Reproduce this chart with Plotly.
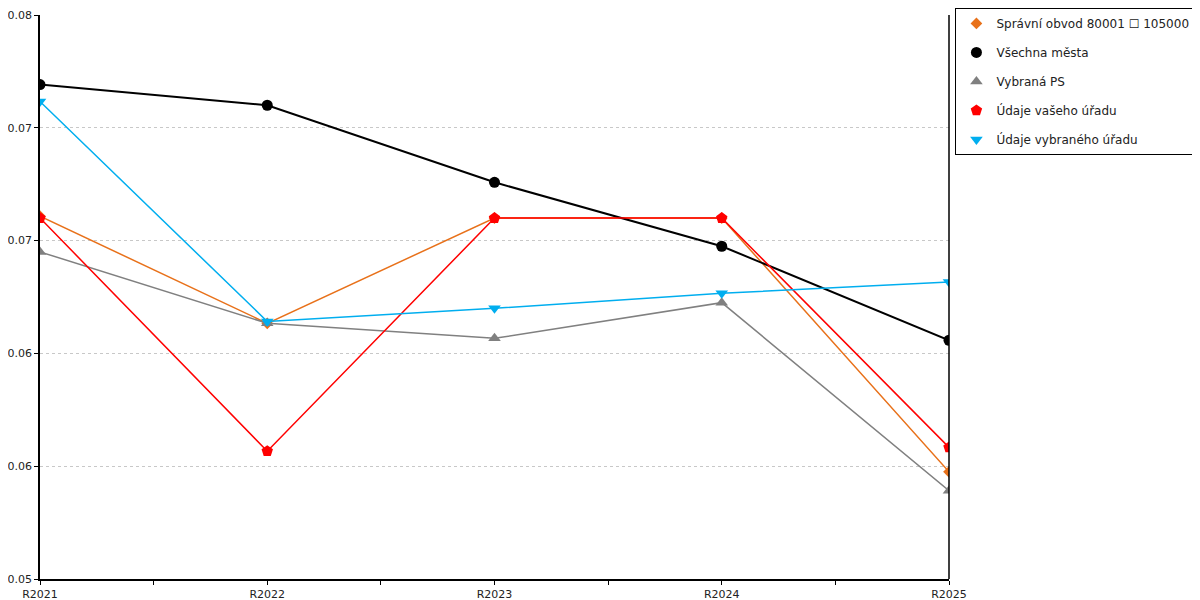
import plotly.graph_objects as go

# -----------------------------------------------------
# Data
# -----------------------------------------------------

years = ["R2021", "R2022", "R2023", "R2024", "R2025"]

spravni_obvod = [0.0693, 0.0636, 0.0692, 0.0692, 0.0557]
vsechna_mesta = [0.0763, 0.0752, 0.0711, 0.0677, 0.0627]
vybrana_ps = [0.0674, 0.0636, 0.0628, 0.0647, 0.0547]
vas_urad = [0.0692, 0.0568, 0.0692, 0.0692, 0.0570]
vybrany_urad = [0.0754, 0.0637, 0.0644, 0.0652, 0.0658]

y_ticks = [0.05, 0.056, 0.062, 0.068, 0.074, 0.08]
minor_ticks = [0.5, 1.5, 2.5, 3.5]

series = [
    ("Správní obvod 80001 \u2610 105000", spravni_obvod, "#E8711A", "diamond", 1.5, 9),
    ("Všechna města", vsechna_mesta, "#000000", "circle", 2, 11),
    ("Vybraná PS", vybrana_ps, "#808080", "triangle-up", 1.5, 11),
    ("Údaje vašeho úřadu", vas_urad, "#FF0000", "pentagon", 1.5, 12),
    ("Údaje vybraného úřadu", vybrany_urad, "#00AEEF", "triangle-down", 1.5, 11),
]

fig = go.Figure()

for i, (name, vals, color, symbol, lw, ms) in enumerate(series):
    fig.add_trace(
        go.Scatter(
            x=years,
            y=vals,
            name=name,
            mode="lines+markers",
            line=dict(color=color, width=lw),
            marker=dict(color=color, symbol=symbol, size=ms),
            showlegend=False,
        )
    )
    # legend entry: marker only, like the original
    fig.add_trace(
        go.Scatter(
            x=[None],
            y=[None],
            name=name,
            mode="markers",
            marker=dict(color=color, symbol=symbol, size=ms),
            legendgroup=f"g{i}",
        )
    )

# invisible helper trace to get the minor ticks between years
fig.add_trace(
    go.Scatter(x=[0, 4], y=[None, None], xaxis="x2", showlegend=False, hoverinfo="skip")
)

# -----------------------------------------------------
# Layout  (page has an 8px body margin, so figure is 1192x592)
# -----------------------------------------------------

fig.update_layout(
    width=1192,
    height=592,
    margin=dict(l=32, r=251, t=7, b=21, autoexpand=False),
    plot_bgcolor="white",
    paper_bgcolor="white",
    font=dict(family="DejaVu Sans", size=11, color="#222222"),
    legend=dict(
        x=1.2711,
        y=1.0125,
        xanchor="right",
        yanchor="top",
        bordercolor="#000000",
        borderwidth=1,
        bgcolor="white",
        font=dict(size=12, color="#222222"),
        tracegroupgap=10,
        itemwidth=30,
    ),
    xaxis=dict(
        type="category",
        range=[0, 4],
        showgrid=False,
        showline=True,
        linecolor="#000000",
        linewidth=1.5,
        ticks="outside",
        ticklen=4,
        tickcolor="#000000",
        tickfont=dict(size=11),
        zeroline=False,
        automargin=False,
    ),
    xaxis2=dict(
        overlaying="x",
        range=[0, 4],
        tickvals=minor_ticks,
        showticklabels=False,
        ticks="outside",
        ticklen=5,
        tickcolor="#000000",
        showgrid=False,
        showline=False,
        zeroline=False,
        side="bottom",
        anchor="y",
    ),
    yaxis=dict(
        range=[0.05, 0.08],
        tickvals=y_ticks,
        tickformat=".2f",
        showline=True,
        linecolor="#000000",
        linewidth=1.5,
        ticks="outside",
        ticklen=4,
        tickcolor="#000000",
        tickfont=dict(size=11),
        showgrid=True,
        gridcolor="#C8C8C8",
        griddash="dot",
        gridwidth=1,
        zeroline=False,
        automargin=False,
    ),
    showlegend=True,
)

# right-hand vertical line at the last year
fig.add_shape(
    type="line",
    xref="paper",
    yref="paper",
    x0=1,
    x1=1,
    y0=0,
    y1=1,
    line=dict(color="#000000", width=1.5),
)

fig.write_html("out.html")
